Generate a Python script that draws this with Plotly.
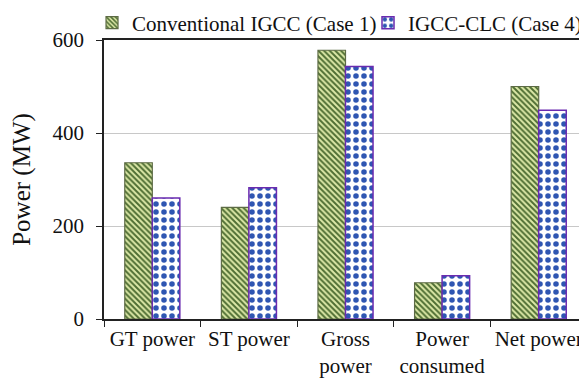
import plotly.graph_objects as go

categories = ["GT power", "ST power", "Gross<br>power", "Power<br>consumed", "Net power"]
conventional = [336, 240, 578, 78, 500]
clc = [260, 282, 543, 93, 449]
series_names = ["Conventional IGCC (Case 1)", "IGCC-CLC (Case 4)"]
y_ticks = [0, 200, 400, 600]

font = dict(family="Liberation Serif, Times New Roman, serif", size=21, color="#111")

fig = go.Figure()
fig.add_trace(go.Bar(
    x=categories, y=conventional, name=series_names[0], legend="legend",
    marker=dict(color="#dbe7a6", line=dict(color="#5d6b45", width=1.2),
                pattern=dict(shape="\\", fgcolor="#4f6e33", bgcolor="#dde9a8", size=4,
                             solidity=0.5, fgopacity=1)),
))
fig.add_trace(go.Bar(
    x=categories, y=clc, name=series_names[1], legend="legend2",
    marker=dict(color="white", line=dict(color="#6a2bb0", width=1.5),
                pattern=dict(shape=".", fgcolor="#2f56b2", bgcolor="white", size=8,
                             solidity=0.38, fgopacity=1)),
))

legend_common = dict(orientation="h", yanchor="middle", y=1.061, xanchor="left",
                     font=dict(size=21), itemwidth=30, bgcolor="rgba(0,0,0,0)", borderwidth=0)

fig.update_layout(
    width=579, height=370,
    margin=dict(l=96, r=0, t=32, b=59, autoexpand=False),
    paper_bgcolor="white", plot_bgcolor="white",
    font=font,
    barmode="group", bargap=0.43, bargroupgap=0,
    showlegend=True,
    legend=dict(x=-0.0248, **legend_common),
    legend2=dict(x=0.5466, **legend_common),
    xaxis=dict(showline=True, linecolor="#222", linewidth=1.5, mirror=True,
               ticks="outside", tickson="boundaries", ticklen=6, tickcolor="#222",
               ticklabelstandoff=0, tickangle=0, showgrid=False, automargin=False),
    yaxis=dict(range=[0, 600], tickvals=y_ticks, showline=True, linecolor="#222", linewidth=1.5,
               ticks="outside", ticklen=6, tickcolor="#222", ticklabelstandoff=8,
               showgrid=True, gridcolor="#c8c8c8", gridwidth=1, automargin=False,
               title=dict(text="Power (MW)", standoff=17), zeroline=False),
)

fig.write_html("out.html")
